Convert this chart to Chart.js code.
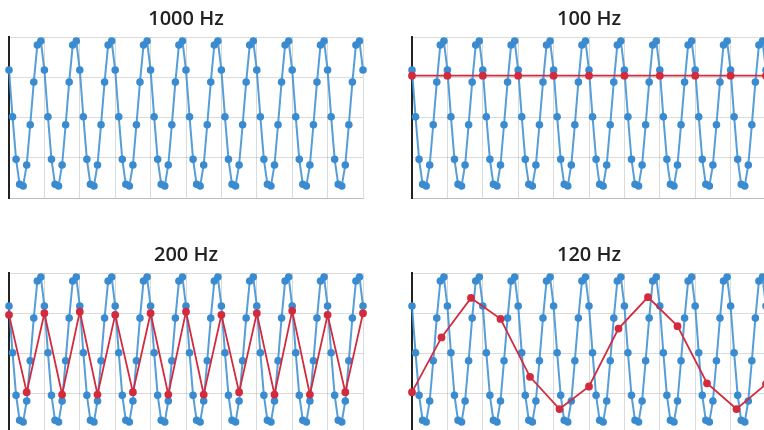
<!DOCTYPE html>
<html>
<head>
<meta charset="utf-8">
<script src="https://cdn.jsdelivr.net/npm/chart.js@4/dist/chart.umd.min.js"></script>
<style>
  html, body { margin: 0; padding: 0; background: #fff; overflow: hidden; }
  .panel { position: absolute; width: 372px; height: 206px; }
</style>
</head>
<body>
<div class="panel" style="left:0;top:0"><canvas id="c1000" width="372" height="206"></canvas></div>
<div class="panel" style="left:403px;top:0"><canvas id="c100" width="372" height="206"></canvas></div>
<div class="panel" style="left:0;top:236px"><canvas id="c200" width="372" height="206"></canvas></div>
<div class="panel" style="left:403px;top:236px"><canvas id="c120" width="372" height="206"></canvas></div>
<script>
// =======================
// Data
// =======================

// original signal, sampled at 1000 Hz, 0 .. 0.1 s
const signal1000 = [
  0.59, 0.01, -0.52, -0.83, -0.85, -0.59, -0.09, 0.44, 0.90, 0.95,
  0.59, 0.01, -0.52, -0.83, -0.85, -0.59, -0.09, 0.44, 0.90, 0.95,
  0.59, 0.01, -0.52, -0.83, -0.85, -0.59, -0.09, 0.44, 0.90, 0.95,
  0.59, 0.01, -0.52, -0.83, -0.85, -0.59, -0.09, 0.44, 0.90, 0.95,
  0.59, 0.01, -0.52, -0.83, -0.85, -0.59, -0.09, 0.44, 0.90, 0.95,
  0.59, 0.01, -0.52, -0.83, -0.85, -0.59, -0.09, 0.44, 0.90, 0.95,
  0.59, 0.01, -0.52, -0.83, -0.85, -0.59, -0.09, 0.44, 0.90, 0.95,
  0.59, 0.01, -0.52, -0.83, -0.85, -0.59, -0.09, 0.44, 0.90, 0.95,
  0.59, 0.01, -0.52, -0.83, -0.85, -0.59, -0.09, 0.44, 0.90, 0.95,
  0.59, 0.01, -0.52, -0.83, -0.85, -0.59, -0.09, 0.44, 0.90, 0.95,
  0.59
];

// resampled signals
const signal100 = [0.52, 0.52, 0.52, 0.52, 0.52, 0.52, 0.52, 0.52, 0.52, 0.52, 0.52];
const signal200 = [
  0.48, -0.48, 0.50, -0.51, 0.52, -0.51, 0.48, -0.48, 0.50, -0.51, 0.52,
  -0.51, 0.48, -0.48, 0.50, -0.51, 0.53, -0.51, 0.48, -0.48, 0.50
];
const signal120 = [-0.48, 0.20, 0.69, 0.43, -0.29, -0.69, -0.41, 0.31, 0.70, 0.34, -0.37, -0.69, -0.38];

const xTicks = { min: 0, max: 0.1, step: 0.01 };
const yTicks = { min: -1, max: 1, step: 0.5 };

// =======================
// Helpers
// =======================

Chart.defaults.font.family = "'Open Sans', 'Noto Sans', sans-serif";

function toPoints(values, rate) {
  return values.map((v, i) => ({ x: i / rate, y: v }));
}

const blueSet = {
  data: toPoints(signal1000, 1000),
  borderColor: "rgba(66,148,212,0.9)",
  backgroundColor: "#3a8bd0",
  pointBackgroundColor: "#3a8bd0",
  pointBorderColor: "#3a8bd0",
  pointRadius: 2.8,
  borderWidth: 2,
  clip: false
};

function redSet(values, rate) {
  return {
    data: toPoints(values, rate),
    borderColor: "#d32b3e",
    backgroundColor: "#d32b3e",
    pointBackgroundColor: "#d32b3e",
    pointBorderColor: "#d32b3e",
    pointRadius: 3,
    borderWidth: 1.8,
    clip: false
  };
}

function makeChart(id, title, datasets) {
  new Chart(document.getElementById(id), {
    type: "line",
    data: { datasets: datasets },
    options: {
      responsive: false,
      animation: false,
      layout: { padding: { left: 9, right: 9, top: 0, bottom: 8 } },
      plugins: {
        legend: { display: false },
        tooltip: { enabled: false },
        title: {
          display: true,
          text: title,
          color: "#222",
          font: { size: 20, weight: "600", lineHeight: 1.2 },
          padding: { top: 7, bottom: 6 }
        }
      },
      scales: {
        x: {
          type: "linear",
          min: xTicks.min,
          max: xTicks.max,
          ticks: { display: false, stepSize: xTicks.step },
          grid: { color: "rgba(0,0,0,0.14)", drawTicks: false },
          border: { color: "rgba(0,0,0,0.14)" }
        },
        y: {
          min: yTicks.min,
          max: yTicks.max,
          ticks: { display: false, stepSize: yTicks.step },
          grid: { color: "rgba(0,0,0,0.14)", drawTicks: false },
          border: { color: "#222", width: 2 }
        }
      }
    }
  });
}

// =======================
// Charts
// =======================

makeChart("c1000", "1000 Hz", [blueSet]);
makeChart("c100", "100 Hz", [redSet(signal100, 100), blueSet]);
makeChart("c200", "200 Hz", [redSet(signal200, 200), blueSet]);
makeChart("c120", "120 Hz", [redSet(signal120, 120), blueSet]);
</script>
</body>
</html>
